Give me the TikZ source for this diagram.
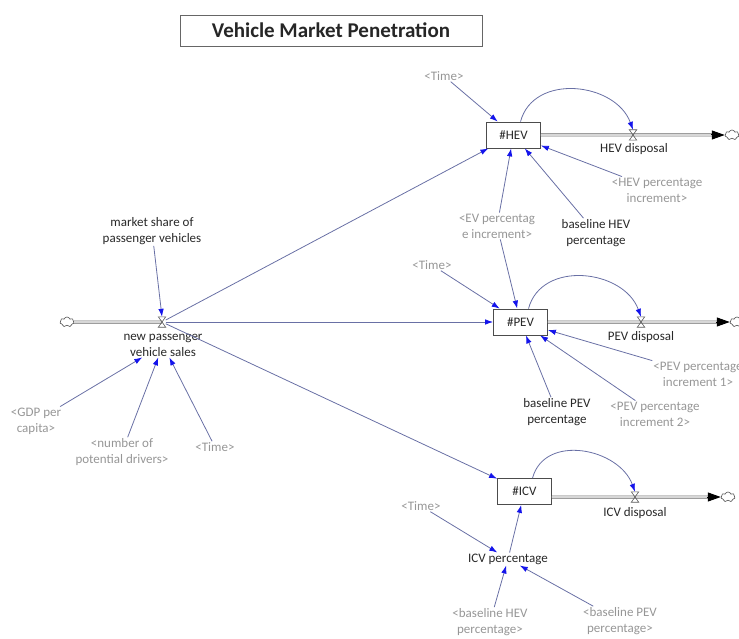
\documentclass[tikz,border=0pt]{standalone}
\usepackage{fontspec}
\setmainfont{Carlito}
\usetikzlibrary{arrows.meta,shapes.symbols,calc}
\definecolor{linkc}{RGB}{105,112,165}
\definecolor{tipc}{RGB}{20,20,235}
\definecolor{txtc}{RGB}{40,40,40}
\definecolor{shadowc}{RGB}{150,150,150}
\definecolor{pipeout}{RGB}{105,105,105}
\definecolor{pipein}{RGB}{215,215,215}
\tikzset{
  lbl/.style={align=center, font=\fontsize{13}{16}\selectfont, text=txtc, inner sep=1pt},
  shd/.style={lbl, text=shadowc},
  stock/.style={draw=black!70, line width=0.8pt, minimum width=54pt, minimum height=26pt, inner sep=0, font=\fontsize{13}{16}\selectfont, text=txtc, fill=white},
  link/.style={draw=linkc, line width=0.8pt, -{Latex[length=8pt,width=5.5pt,color=tipc]}},
  pipe/.style={draw=pipeout, double=pipein, double distance=1.6pt, line width=0.7pt},
  valvebox/.style={minimum width=7pt, minimum height=10pt, inner sep=0},
  valveline/.style={draw=black!65, line width=0.6pt},
  cloudn/.style={cloud, draw=black!70, cloud puffs=7, cloud puff arc=140, aspect=1.4, minimum width=14pt, minimum height=10pt, inner sep=0, line width=0.6pt, fill=white},
  flowtip/.style={line width=1pt, -{Triangle[length=13pt,width=9pt,color=black]}}
}
\begin{document}
\begin{tikzpicture}[x=1pt,y=-1pt]
\useasboundingbox (0,0) rectangle (739,639);
\clip (0,0) rectangle (739,639);

% title
\node[draw=black!60, line width=0.8pt, minimum width=302pt, minimum height=31pt, inner sep=0,
      font=\bfseries\fontsize{21}{24}\selectfont, text=black!85] (title) at (331,30.5) {Vehicle Market Penetration};

% stocks
\node[stock] (hev) at (513.5,135) {\#HEV};
\node[stock] (pev) at (520.5,322) {\#PEV};
\node[stock] (icv) at (524.5,491.5) {\#ICV};

% valves and clouds
\node[valvebox] (npv) at (162,322) {};
\node[valvebox] (hevv) at (633,135) {};
\node[valvebox] (pevv) at (641,322) {};
\node[valvebox] (icvv) at (635,497) {};
\node[cloudn] (npc) at (67,322) {};
\node[cloudn] (hevc) at (732,135) {};
\node[cloudn] (pevc) at (737,322) {};
\node[cloudn] (icvc) at (728,497) {};

% pipes
\draw[pipe] (npc.east) -- (npv.center);
\draw[pipe, shorten >=12pt] (hev.east) -- (hevc.west);
\draw[pipe, shorten >=12pt] (pev.east) -- (pevc.west);
\draw[pipe, shorten >=12pt] ([yshift=-5.5pt]icv.east) -- (icvc.west);
\draw[flowtip] ([xshift=-14pt]hevc.west) -- (hevc.west);
\draw[flowtip] ([xshift=-14pt]pevc.west) -- (pevc.west);
\draw[flowtip] ([xshift=-14pt]icvc.west) -- (icvc.west);
\foreach \v in {npv,hevv,pevv,icvv}{
  \draw[valveline] (\v.north west) -- (\v.north east) -- (\v.south west) -- (\v.south east) -- cycle;
}

% labels
\node[lbl] (npl) at (163,345) {new passenger\\vehicle sales};
\node[lbl] (hevl) at (634,149) {HEV disposal};
\node[lbl] (pevl) at (641,337) {PEV disposal};
\node[lbl] (icvl) at (635,513) {ICV disposal};
\node[lbl] (ms) at (152,231) {market share of\\passenger vehicles};
\node[shd] (gdp) at (36,421) {<GDP per\\capita>};
\node[shd] (npd) at (122,452) {<number of\\potential drivers>};
\node[shd] (t1) at (215,447) {<Time>};
\node[shd] (t2) at (444,76) {<Time>};
\node[shd] (hevinc) at (657,190) {<HEV percentage\\increment>};
\node[lbl] (bhev) at (596,233) {baseline HEV\\percentage};
\node[shd] (evinc) at (497,226) {<EV percentag\\e increment>};
\node[shd] (t3) at (432,265) {<Time>};
\node[shd] (pevinc1) at (698,374) {<PEV percentage\\increment 1>};
\node[shd] (pevinc2) at (655,414) {<PEV percentage\\increment 2>};
\node[lbl] (bpev) at (557,412) {baseline PEV\\percentage};
\node[shd] (t4) at (421,506) {<Time>};
\node[lbl] (icvp) at (508,559) {ICV percentage};
\node[shd] (bhev2) at (490,622) {<baseline HEV\\percentage>};
\node[shd] (bpev2) at (620,621) {<baseline PEV\\percentage>};

% links
\draw[link] (ms) -- (npv.north);
\draw[link] (gdp) -- (npl);
\draw[link] (npd) -- (npl);
\draw[link] (t1) -- (npl);
\draw[link] (npv) -- (hev);
\draw[link] (npv) -- (pev);
\draw[link] (npv) -- (icv);
\draw[link] (t2) -- (hev);
\draw[link] (hevinc) -- (hev);
\draw[link] (bhev) -- (hev);
\draw[link] (evinc) -- (hev);
\draw[link] (evinc) -- (pev);
\draw[link] (t3) -- (pev);
\draw[link] (pevinc1) -- (pev);
\draw[link] (pevinc2) -- (pev);
\draw[link] (bpev) -- (pev);
\draw[link] (t4) -- (icvp);
\draw[link] (icvp) -- (icv);
\draw[link] (bhev2) -- (icvp);
\draw[link] (bpev2) -- (icvp);
\draw[link] ([xshift=7pt]hev.north) to[out=75,in=110,looseness=1.15] (hevv.north);
\draw[link] ([xshift=8pt]pev.north) to[out=75,in=110,looseness=1.15] (pevv.north);
\draw[link] ([xshift=8pt]icv.north) to[out=75,in=110,looseness=1.15] (icvv.north);
\end{tikzpicture}
\end{document}
